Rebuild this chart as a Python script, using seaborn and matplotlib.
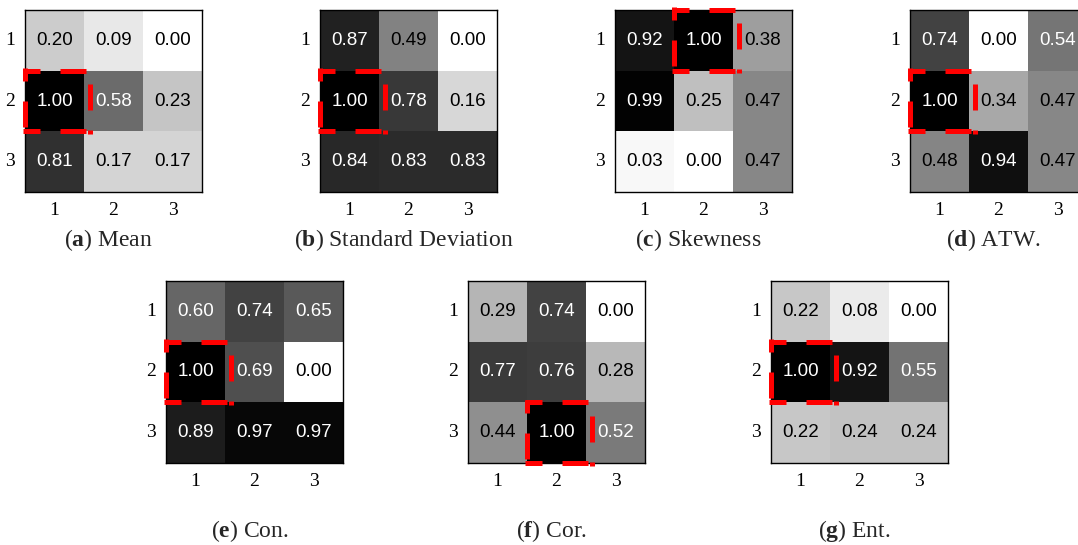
import numpy as np
import pandas as pd
import seaborn as sns
import matplotlib
matplotlib.use("Agg")
import matplotlib.pyplot as plt

# ---- data ----
row_labels = ["1", "2", "3"]
col_labels = ["1", "2", "3"]

mean_vals = [[0.20, 0.09, 0.00], [1.00, 0.58, 0.23], [0.81, 0.17, 0.17]]
std_vals = [[0.87, 0.49, 0.00], [1.00, 0.78, 0.16], [0.84, 0.83, 0.83]]
skew_vals = [[0.92, 1.00, 0.38], [0.99, 0.25, 0.47], [0.03, 0.00, 0.47]]
atw_vals = [[0.74, 0.00, 0.54], [1.00, 0.34, 0.47], [0.48, 0.94, 0.47]]
con_vals = [[0.60, 0.74, 0.65], [1.00, 0.69, 0.00], [0.89, 0.97, 0.97]]
cor_vals = [[0.29, 0.74, 0.00], [0.77, 0.76, 0.28], [0.44, 1.00, 0.52]]
ent_vals = [[0.22, 0.08, 0.00], [1.00, 0.92, 0.55], [0.22, 0.24, 0.24]]

letters = ["a", "b", "c", "d", "e", "f", "g"]
titles = ["Mean", "Standard Deviation", "Skewness", "ATW.", "Con.", "Cor.", "Ent."]
panels = [mean_vals, std_vals, skew_vals, atw_vals, con_vals, cor_vals, ent_vals]

# ---- style ----
sns.set_style("white")
plt.rcParams["mathtext.fontset"] = "custom"
plt.rcParams["mathtext.rm"] = "Liberation Serif"
plt.rcParams["mathtext.bf"] = "Liberation Serif:bold"
plt.rcParams["font.family"] = ["Liberation Serif", "DejaVu Serif"]

W, H = 1078, 545
fig = plt.figure(figsize=(W / 100, H / 100), dpi=100)

# axes pixel boxes: (left, top, width, height)
boxes = [
    (25, 10, 177, 182), (320, 10, 177, 182), (615, 10, 177, 182), (910, 10, 177, 182),
    (166, 281, 177, 182), (468, 281, 177, 182), (771, 281, 177, 182),
]
caption_y = [240, 240, 240, 240, 531, 531, 531]

LW = 3.6
DASH = (5.2, 4.0)  # in units of linewidth (26px on, 20px off)

for k, (vals, (l, t, w, h)) in enumerate(zip(panels, boxes)):
    ax = fig.add_axes([l / W, 1 - (t + h) / H, w / W, h / H])
    df = pd.DataFrame(vals, index=row_labels, columns=col_labels)
    sns.heatmap(df, ax=ax, cmap="gray_r", vmin=0, vmax=1, cbar=False,
                annot=True, fmt=".2f",
                annot_kws={"family": "Liberation Sans", "fontsize": 13.5})
    arr = np.array(vals)
    for txt, v in zip(ax.texts, arr.flatten()):
        txt.set_color("white" if v > 0.5 else "black")
    for s in ax.spines.values():
        s.set_visible(True)
        s.set_color("black")
        s.set_linewidth(1.0)
    ax.tick_params(axis="both", which="both", direction="in", length=3, width=0.8,
                   top=True, right=True, bottom=True, left=True,
                   labelsize=14, pad=7, colors="black")
    ax.set_yticklabels(row_labels, rotation=0, family="Liberation Serif")
    ax.set_xticklabels(col_labels, rotation=0, family="Liberation Serif")
    ax.set_xlabel("")
    ax.set_ylabel("")
    # highlight max cell with a thick red dashed box
    r, c = np.unravel_index(np.argmax(arr), arr.shape)
    x0, x1 = c, c + 1.1
    y0, y1 = r, r + 1.0
    ex, ey = 0.042, 0.042
    edges = [
        ((x0 - ex, x1 + ex), (y0, y0), 1.8),   # top
        ((x0 - ex, x1 + ex), (y1, y1), 1.8),   # bottom
        ((x0, x0), (y0 - ey, y1 + ey), 2.6),   # left
        ((x1, x1), (y0 - ey, y1 + ey), 6.0),   # right
    ]
    for xs, ys, off in edges:
        ax.plot(xs, ys, color="#ff0000", linewidth=LW, linestyle=(off, DASH),
                solid_capstyle="butt", dash_capstyle="butt",
                clip_on=False, zorder=5)
    # caption
    cx = (l + w / 2 - 5) / W
    fig.text(cx, 1 - caption_y[k] / H, r"($\mathbf{%s}$) %s" % (letters[k], titles[k]),
             ha="center", va="center", fontsize=17, family="Liberation Serif")

fig.savefig("out.png", dpi=100)
